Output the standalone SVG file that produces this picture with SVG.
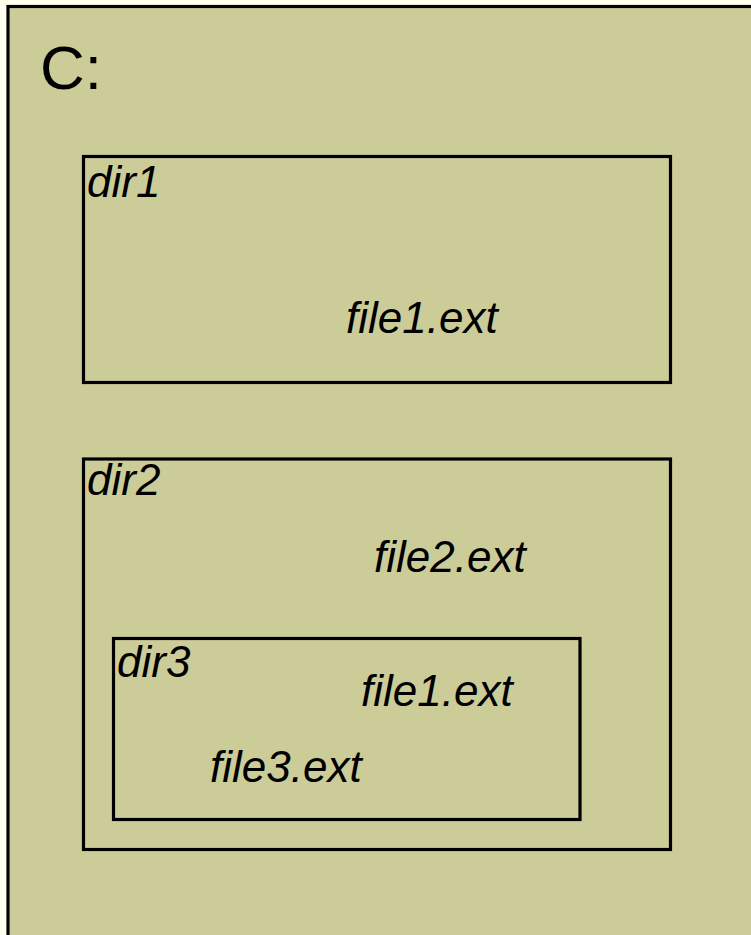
<svg xmlns="http://www.w3.org/2000/svg" width="751" height="935" viewBox="0 0 751 935">
  <style>
    .box { fill: #CCCC99; stroke: #000000; stroke-width: 3.2; }
    .lbl { font-family: "Liberation Sans", Arial, sans-serif; font-style: italic; font-size: 44px; fill: #000000; }
    .drive { font-family: "Liberation Sans", Arial, sans-serif; font-size: 62px; fill: #000000; }
  </style>
  <rect x="0" y="0" width="751" height="935" fill="#FFFFEE"/>

  <g id="drive-c">
    <rect class="box" x="8" y="6.5" width="760" height="950"/>
    <text class="drive" x="40" y="89">C:</text>
  </g>

  <g id="dir1">
    <rect class="box" x="83.5" y="156.5" width="587" height="226"/>
    <text class="lbl" x="87" y="197">dir1</text>
    <text class="lbl" x="346" y="333">file1.ext</text>
  </g>

  <g id="dir2">
    <rect class="box" x="83.5" y="459" width="587" height="390.5"/>
    <text class="lbl" x="87" y="495">dir2</text>
    <text class="lbl" x="374" y="572">file2.ext</text>
  </g>

  <g id="dir3">
    <rect class="box" x="113.5" y="638.5" width="466.5" height="181"/>
    <text class="lbl" x="117" y="677">dir3</text>
    <text class="lbl" x="361" y="706">file1.ext</text>
    <text class="lbl" x="210" y="782">file3.ext</text>
  </g>

  <g id="connectors"/>
</svg>
